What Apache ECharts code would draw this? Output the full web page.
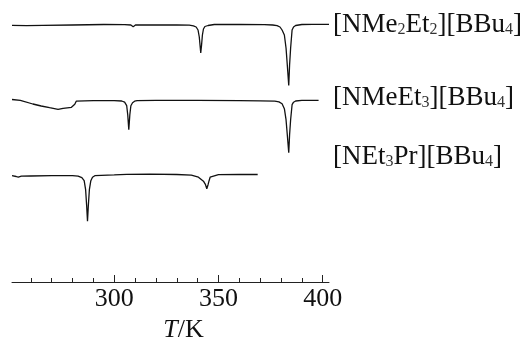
<!DOCTYPE html>
<html>
<head>
<meta charset="utf-8">
<script src="https://cdn.jsdelivr.net/npm/echarts@6/dist/echarts.min.js"></script>
<style>
  html, body { margin: 0; padding: 0; background: #fff; }
  #chart { width: 527px; height: 340px; }
</style>
</head>
<body>
<div id="chart"></div>
<script>
// ---- data (T in K, signal in arbitrary heat-flow units, endo down) ----
const sampleNames = ['[NMe2Et2][BBu4]', '[NMeEt3][BBu4]', '[NEt3Pr][BBu4]'];
const traceOffsets = [257, 181.3, 106.3];   // vertical stacking offsets of the curves

const traceNMe2Et2 = [
  [251, -0.3], [258, -0.6], [266, -0.4], [280, 0], [295, 0.5], [305, 0.3], [308, 0],
  [309.1, -1.7], [310.2, 0], [315, 0.2], [330, 0], [336, -0.2], [338, -0.8], [339.3, -2],
  [340.2, -5], [340.8, -12], [341.2, -21], [341.5, -28], [341.9, -20], [342.3, -10],
  [342.8, -4], [343.5, -1.5], [345, -0.5], [348, 0.5], [360, 0.6], [372, 0.4], [376, 0],
  [378.1, -0.6], [379.5, -2], [380.5, -5], [381.6, -10], [382.4, -23], [383.0, -40],
  [383.7, -60.5], [384.1, -40], [384.6, -23], [385.3, -5], [386, -2], [387, -0.5],
  [390, 0.5], [395, 0.7], [403, 0.7]
];
const traceNMeEt3 = [
  [251, 1.2], [255, 0.3], [261, -3.3], [265, -5.3], [269, -7], [273.1, -8.6], [275.5, -7.6],
  [279.5, -6.6], [281.1, -3.6], [281.8, -0.5], [282.4, 0], [290, 0], [300, 0], [303.6, -0.3],
  [305, -1.5], [306, -5], [306.5, -14], [307.0, -29], [307.5, -14], [308.0, -5], [308.8, -2],
  [309.8, -0.5], [311, 0], [320, 0.3], [340, 0.3], [360, 0], [370, -0.2], [377, -0.5],
  [379, -1.2], [380.5, -3], [381.6, -8], [382.4, -19], [383.0, -34], [383.7, -52],
  [384.1, -34], [384.6, -19], [385.3, -4], [386, -1.5], [387, -0.3], [390, 0.3], [398, 0.3]
];
const traceNEt3Pr = [
  [251, 0], [253, -0.8], [254, -1.5], [255.5, -0.5], [260, -0.3], [270, 0], [280, 0],
  [282.7, -0.5], [284.5, -2], [285.6, -5], [286.3, -14], [286.8, -30], [287.2, -45.5],
  [287.6, -30], [288.1, -14], [288.8, -5], [289.6, -1.5], [290.7, 0], [300, 0.8], [306, 1.4],
  [317, 1.6], [330, 1.2], [337, 0.5], [340.4, -1.5], [342.8, -5.5], [343.8, -9], [344.4, -13],
  [345.0, -9], [345.5, -5], [346.0, -1.5], [346.5, 0.5], [350, 1], [360, 1.2], [368.8, 1.2]
];
const majorTicks = [300, 350, 400];
const minorTicks = [260, 270, 280, 290, 300, 310, 320, 330, 340, 350, 360, 370, 380, 390, 400];
const axisMin = 251, axisMax = 403;

// ---- build chart ----
const traces = [traceNMe2Et2, traceNMeEt3, traceNEt3Pr];
const serif = 'Liberation Serif';

function richName(name) {
  // turn digits into subscripts
  return name.replace(/(\d)/g, '{s|$1}').split(/(\{s\|\d\})/).map(function (p) {
    if (!p) return '';
    return p.indexOf('{s|') === 0 ? p : '{n|' + p + '}';
  }).join('');
}
const labelY = [26, 99, 158];

const chart = echarts.init(document.getElementById('chart'), null, { renderer: 'canvas' });
chart.setOption({
  animation: false,
  backgroundColor: '#fff',
  grid: { left: 12, right: 198, top: 0, bottom: 58, outerBoundsMode: 'none', containLabel: false },
  xAxis: [
    {
      type: 'value', min: axisMin, max: axisMax, position: 'bottom',
      axisLine: { show: true, lineStyle: { color: '#222', width: 1 } },
      axisTick: { show: true, inside: true, length: 7, customValues: majorTicks, lineStyle: { color: '#222', width: 1 } },
      axisLabel: { customValues: majorTicks, fontSize: 26, fontFamily: serif, color: '#111', margin: 4 },
      splitLine: { show: false },
      name: '{i|T}/K',
      nameLocation: 'middle',
      nameGap: 35,
      nameTextStyle: {
        fontSize: 26, fontFamily: serif, color: '#111', padding: [0, 0, 0, 26],
        rich: { i: { fontStyle: 'italic', fontSize: 26, fontFamily: serif, color: '#111' } }
      }
    },
    {
      type: 'value', min: axisMin, max: axisMax, position: 'bottom',
      axisLine: { show: false },
      axisTick: { show: true, inside: true, length: 4, customValues: minorTicks, lineStyle: { color: '#222', width: 1 } },
      axisLabel: { show: false },
      splitLine: { show: false }
    }
  ],
  yAxis: { type: 'value', min: 0, max: 282, show: false },
  series: traces.map(function (tr, k) {
    return {
      name: sampleNames[k],
      type: 'line',
      xAxisIndex: 0,
      showSymbol: false,
      symbol: 'none',
      smooth: false,
      lineStyle: { color: '#111', width: 1.3 },
      data: tr.map(function (p) { return [p[0], traceOffsets[k] + p[1]]; })
    };
  }),
  graphic: sampleNames.map(function (nm, k) {
    return {
      type: 'text',
      left: 333,
      top: labelY[k] - 15,
      style: {
        text: richName(nm),
        rich: {
          n: { fontFamily: serif, fontSize: 27, fill: '#111', lineHeight: 30, verticalAlign: 'bottom' },
          s: { fontFamily: serif, fontSize: 16, fill: '#333', lineHeight: 21, verticalAlign: 'bottom' }
        }
      }
    };
  })
});
</script>
</body>
</html>
